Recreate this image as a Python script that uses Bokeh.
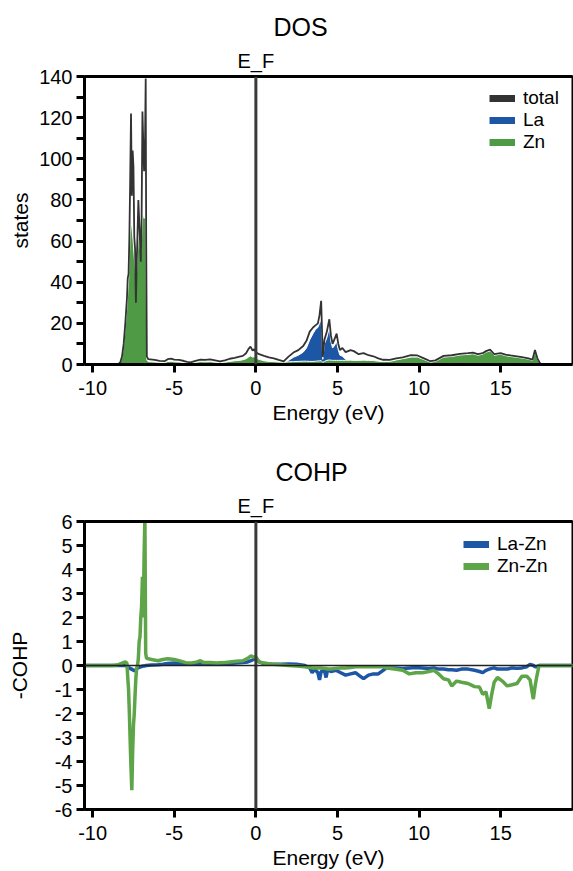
from bokeh.plotting import figure
from bokeh.layouts import column
from bokeh.models import (ColumnDataSource, Range1d, FixedTicker, LinearAxis, Span,
                          Legend, LegendItem)
from bokeh.embed import file_html
from bokeh.resources import INLINE

FONT = "Liberation Sans"
TOTAL_C = "#333333"
LA_C = "#1d56a5"
ZN_C = "#4e9a45"
ZNZN_C = "#5ea448"
EF_C = "#3b3b3b"

# ---------------- DOS data ----------------
dos_energy = [-10.5, -8.6, -8.4, -8.3, -8.2, -8.1, -8.0, -7.9, -7.85, -7.8,
              -7.75, -7.7, -7.65, -7.6, -7.55, -7.5, -7.45, -7.4, -7.35, -7.3,
              -7.25, -7.2, -7.15, -7.1, -7.05, -7.0, -6.95, -6.9, -6.85, -6.8,
              -6.75, -6.72, -6.68, -6.6, -6.2, -5.9, -5.6, -5.4, -5.2, -5.0,
              -4.7, -4.4, -4.2, -4.0, -3.7, -3.4, -3.1, -2.8, -2.5, -2.2,
              -1.9, -1.6, -1.3, -1.0, -0.8, -0.6, -0.45, -0.33, -0.2, -0.1,
              0.0, 0.2, 0.5, 0.8, 1.1, 1.4, 1.7, 2.0, 2.3, 2.6,
              2.9, 3.1, 3.3, 3.5, 3.65, 3.8, 3.9, 4.0, 4.1, 4.2,
              4.35, 4.5, 4.6, 4.7, 4.8, 4.95, 5.05, 5.15, 5.3, 5.5,
              5.8, 6.0, 6.3, 6.6, 6.9, 7.2, 7.5, 7.8, 8.2, 8.6,
              9.0, 9.5, 9.9, 10.3, 10.7, 11.0, 11.5, 12.0, 12.5, 13.0,
              13.3, 13.6, 13.9, 14.1, 14.35, 14.6, 15.0, 15.3, 15.6, 16.0,
              16.3, 16.7, 16.95, 17.1, 17.25, 17.4, 17.5, 19.5]
dos_total = [0, 0, 0.4, 1.2, 4, 10, 20, 32, 42, 44,
             62, 90, 122, 82, 104, 96, 62, 56, 30, 50,
             64, 80, 70, 60, 50, 72, 123, 108, 94, 102,
             139, 60, 4, 2.6, 2.2, 1.8, 1.6, 2.6, 2.9, 2.4,
             2.2, 1.7, 1.3, 1.0, 1.8, 2.4, 2.2, 2.5, 2.0, 1.5,
             2.0, 2.8, 3.2, 3.8, 4.2, 5.5, 7.6, 8.7, 6.8, 7.5,
             6.0, 5.0, 4.2, 3.5, 3.0, 2.2, 1.5, 3.8, 5.8, 7.0,
             9.0, 11.5, 16, 18, 19, 20, 24, 31, 3.6, 12,
             16, 22, 14, 10, 12, 15, 10, 7, 8, 6,
             7, 6.5, 5, 5.5, 4.5, 4, 3, 2.3, 2.2, 3,
             3.5, 4.5, 4.4, 3, 1.6, 2, 4.2, 4.5, 5.2, 5.5,
             5.8, 5.0, 5.5, 6.5, 7.2, 5.0, 5.5, 4.8, 4.4, 4.0,
             3.6, 3.0, 2.4, 7.0, 3.0, 0.8, 0, 0]
dos_la = [0, 0, 0, 0, 0.1, 0.1, 0.2, 0.3, 0.3, 0.3,
          0.4, 0.4, 0.5, 0.5, 0.5, 0.5, 0.5, 0.5, 0.4, 0.4,
          0.4, 0.4, 0.4, 0.4, 0.4, 0.4, 0.4, 0.4, 0.4, 0.4,
          0.4, 0.3, 0.1, 0.1, 0.1, 0.1, 0.1, 0.2, 0.2, 0.2,
          0.2, 0.2, 0.2, 0.1, 0.2, 0.2, 0.2, 0.3, 0.3, 0.3,
          0.3, 0.4, 0.4, 0.5, 0.5, 0.6, 0.8, 0.9, 1.0, 1.1,
          1.2, 1.4, 1.6, 1.5, 1.3, 1.0, 0.8, 2.0, 3.5, 4.5,
          6.0, 8.0, 12, 15, 17, 18, 20, 22, 2.5, 10,
          13, 18, 11, 8, 9, 11, 7, 4.5, 4, 2.5,
          2, 1.5, 1.0, 0.8, 0.7, 0.6, 0.5, 0.4, 0.4, 0.4,
          0.4, 0.4, 0.4, 0.3, 0.2, 0.2, 0.3, 0.3, 0.3, 0.3,
          0.3, 0.3, 0.3, 0.3, 0.3, 0.3, 0.3, 0.3, 0.3, 0.3,
          0.3, 0.3, 0.2, 0.3, 0.2, 0.1, 0, 0]
dos_zn = [0, 0, 0.3, 1.0, 3.5, 9, 18, 28, 35, 40,
          52, 63, 70, 67, 63, 58, 52, 47, 40, 46,
          55, 62, 64, 57, 54, 62, 72, 73, 71, 72,
          72, 40, 2.2, 1.4, 1.2, 1.0, 0.9, 1.4, 1.6, 1.3,
          1.2, 0.9, 0.7, 0.5, 1.0, 1.4, 1.3, 1.4, 1.1, 0.8,
          1.1, 1.5, 1.8, 2.0, 2.3, 2.8, 3.6, 4.2, 3.6, 3.8,
          3.0, 2.5, 1.8, 1.5, 1.4, 1.2, 1.1, 1.3, 1.4, 1.5,
          1.6, 1.6, 1.5, 1.5, 1.6, 1.7, 1.8, 1.9, 1.0, 1.5,
          2.0, 2.2, 2.1, 2.0, 2.0, 2.0, 2.0, 2.0, 2.0, 2.0,
          2.1, 2.0, 2.0, 2.1, 2.0, 1.9, 1.6, 1.4, 1.5, 2.2,
          2.8, 3.6, 3.6, 2.4, 1.1, 1.5, 3.6, 3.9, 4.6, 4.9,
          5.2, 4.5, 5.0, 6.0, 6.6, 4.5, 5.0, 4.3, 3.9, 3.5,
          3.1, 2.6, 2.0, 6.5, 2.6, 0.5, 0, 0]

# ---------------- COHP data ----------------
cohp_energy = [-10.5, -8.8, -8.5, -8.2, -8.0, -7.9, -7.85, -7.8, -7.75, -7.7,
               -7.65, -7.6, -7.55, -7.5, -7.45, -7.4, -7.35, -7.3, -7.25, -7.2,
               -7.15, -7.1, -7.05, -7.0, -6.95, -6.9, -6.85, -6.8, -6.75, -6.7,
               -6.4, -6.0, -5.7, -5.4, -5.0, -4.6, -4.3, -4.0, -3.6, -3.4,
               -3.2, -2.8, -2.4, -2.0, -1.6, -1.2, -0.8, -0.5, -0.3, -0.15,
               0.0, 0.2, 0.5, 1.0, 1.5, 2.0, 2.5, 3.0, 3.3, 3.45,
               3.6, 3.8, 3.9, 4.0, 4.2, 4.3, 4.4, 4.6, 4.9, 5.2,
               5.5, 5.8, 6.1, 6.4, 6.6, 6.9, 7.2, 7.5, 7.8, 8.0,
               8.5, 9.0, 9.4, 9.8, 10.2, 10.6, 10.9, 11.2, 11.5, 11.8,
               12.0, 12.3, 12.6, 13.0, 13.4, 13.7, 13.9, 14.1, 14.3, 14.45,
               14.6, 14.8, 15.1, 15.4, 15.7, 16.0, 16.3, 16.6, 16.8, 17.0,
               17.1, 17.2, 17.35, 19.5]
cohp_la_zn = [0, 0, 0, 0, 0, -0.02, -0.05, -0.08, -0.1, -0.12,
              -0.15, -0.15, -0.18, -0.2, -0.22, -0.2, -0.18, -0.15, -0.1, -0.08,
              -0.08, -0.06, -0.05, -0.04, -0.03, -0.02, -0.02, -0.02, 0.0, 0.0,
              0.02, 0.03, 0.05, 0.08, 0.1, 0.06, 0.06, 0.05, 0.08, 0.1,
              0.06, 0.06, 0.05, 0.06, 0.08, 0.1, 0.12, 0.15, 0.2, 0.25,
              0.3, 0.15, 0.08, 0.05, 0.05, 0.06, 0.05, 0.0, -0.1, -0.3,
              -0.15, -0.3, -0.6, -0.25, -0.2, -0.5, -0.15, -0.25, -0.2, -0.3,
              -0.4, -0.35, -0.3, -0.45, -0.55, -0.4, -0.35, -0.35, -0.2, -0.1,
              -0.1, -0.12, -0.1, -0.08, -0.1, -0.12, -0.1, -0.15, -0.15, -0.18,
              -0.18, -0.2, -0.15, -0.15, -0.2, -0.25, -0.3, -0.2, -0.15, -0.12,
              -0.1, -0.15, -0.15, -0.15, -0.1, -0.12, -0.1, -0.05, 0.05, 0.0,
              -0.05, -0.05, 0.0, 0]
cohp_zn_zn = [0, 0, 0.02, 0.1, 0.15, 0.1, -0.5, -1.0, -2.0, -3.2,
              -4.3, -5.2, -3.6, -2.5, -2.0, -1.2, -0.5, -0.1, 0.0, 0.3,
              1.0, 1.2, 2.0, 2.5, 3.7, 2.0, 4.5, 6.2, 0.5, 0.3,
              0.25, 0.2, 0.25, 0.28, 0.25, 0.18, 0.12, 0.1, 0.15, 0.2,
              0.12, 0.12, 0.1, 0.12, 0.15, 0.18, 0.2, 0.3, 0.4, 0.35,
              0.35, 0.15, 0.1, 0.05, 0.03, 0.0, -0.02, -0.05, -0.08, -0.1,
              -0.1, -0.1, -0.1, -0.1, -0.12, -0.12, -0.15, -0.15, -0.12, -0.1,
              -0.1, -0.08, -0.05, -0.05, -0.05, -0.05, -0.05, -0.05, -0.05, -0.1,
              -0.15, -0.2, -0.35, -0.3, -0.3, -0.25, -0.2, -0.35, -0.55, -0.6,
              -0.85, -0.65, -0.7, -0.75, -0.88, -0.9, -1.2, -1.1, -1.8, -1.2,
              -0.7, -0.5, -0.65, -0.85, -0.8, -0.75, -0.45, -0.45, -0.6, -1.4,
              -0.9, -0.5, 0.0, 0]

x_ticks = [-10, -5, 0, 5, 10, 15]
dos_y_ticks = [0, 20, 40, 60, 80, 100, 120, 140]
dos_y_minor = [10, 30, 50, 70, 90, 110, 130]
cohp_y_ticks = [-6, -5, -4, -3, -2, -1, 0, 1, 2, 3, 4, 5, 6]


def hyphen_labels(ticks):
    # plain ASCII hyphen for negative tick labels, as in the original
    return {t: str(t) for t in ticks if t < 0}


def base(title, height, yr, yticks, yminor, ylabel, title_offset,
         mb_top, mb_bottom, ylabel_standoff):
    p = figure(width=573, height=height, x_range=Range1d(-10.5, 19.4),
               y_range=Range1d(*yr), output_backend="svg", toolbar_location=None,
               min_border_left=84, min_border_right=1, min_border_top=mb_top,
               min_border_bottom=mb_bottom, title=title)
    p.title.text_font = FONT
    p.title.text_font_size = "25px"
    p.title.text_font_style = "normal"
    p.title.text_color = "black"
    p.title.align = "left"
    p.title.offset = title_offset
    p.title.standoff = 12
    p.grid.visible = False
    p.outline_line_color = "black"
    p.outline_line_width = 2
    p.outline_line_alpha = 1
    p.background_fill_color = "white"
    p.border_fill_color = "white"

    xa = p.xaxis[0]
    xa.ticker = FixedTicker(ticks=x_ticks)
    xa.major_label_overrides = hyphen_labels(x_ticks)
    xa.axis_label = "Energy (eV)"
    ya = p.yaxis[0]
    ya.ticker = FixedTicker(ticks=yticks, minor_ticks=yminor)
    ya.major_label_overrides = hyphen_labels(yticks)
    ya.axis_label = ylabel
    for ax in (xa, ya):
        ax.axis_line_width = 3
        ax.axis_line_color = "black"
        ax.major_tick_line_width = 3
        ax.minor_tick_line_width = 3
        ax.major_tick_in = 0
        ax.minor_tick_in = 0
        ax.major_tick_out = 8
        ax.minor_tick_out = 8
        ax.major_label_text_font = FONT
        ax.major_label_text_font_size = "20px"
        ax.major_label_text_color = "black"
        ax.axis_label_text_font = FONT
        ax.axis_label_text_font_size = "21px"
        ax.axis_label_text_font_style = "normal"
        ax.axis_label_text_color = "black"
        ax.major_label_standoff = 4
    xa.major_label_standoff = 8
    xa.axis_label_standoff = 3
    ya.axis_label_standoff = ylabel_standoff

    top = LinearAxis(ticker=FixedTicker(ticks=[0]), major_label_overrides={0: "E_F"})
    top.axis_line_width = 3
    top.major_tick_out = 0
    top.major_tick_in = 0
    top.major_label_standoff = 5
    top.major_label_text_font = FONT
    top.major_label_text_font_size = "20px"
    top.major_label_text_color = "black"
    p.add_layout(top, "above")

    p.add_layout(Span(location=0, dimension="height", line_color=EF_C, line_width=3))
    return p


def legend_entry(p, label, renderer, loc):
    # one legend per entry so that the rows can be placed exactly
    leg = Legend(items=[LegendItem(label=label, renderers=[renderer])], location=loc)
    leg.background_fill_alpha = 0
    leg.border_line_alpha = 0
    leg.inactive_fill_alpha = 0
    leg.label_text_font = FONT
    leg.label_text_font_size = "19px"
    leg.label_text_color = "black"
    leg.glyph_width = 26
    leg.glyph_height = 16
    leg.label_height = 16
    leg.label_standoff = 8
    leg.spacing = 0
    leg.padding = 0
    leg.margin = 0
    p.add_layout(leg)


# ---------------- DOS figure ----------------
dos_src = ColumnDataSource(dict(e=dos_energy, total=dos_total, la=dos_la, zn=dos_zn))
p1 = base("DOS", 430, (0, 140), dos_y_ticks, dos_y_minor, "states", 189, 76, 66, 4)
p1.varea(x="e", y1=0, y2="la", source=dos_src, fill_color=LA_C)
p1.line(x="e", y="la", source=dos_src, line_color="white", line_width=1)
p1.varea(x="e", y1=0, y2="zn", source=dos_src, fill_color=ZN_C)
p1.line(x="e", y="zn", source=dos_src, line_color="white", line_width=1)
p1.line(x="e", y="total", source=dos_src, line_color=TOTAL_C, line_width=1.8)

# legend swatches (hidden renderers on the same data, drawn only in the legend)
lt = p1.line(x="e", y="total", source=dos_src, line_color=TOTAL_C, line_width=7, visible=False)
ll = p1.line(x="e", y="la", source=dos_src, line_color=LA_C, line_width=7, visible=False)
lz = p1.line(x="e", y="zn", source=dos_src, line_color=ZN_C, line_width=7, visible=False)
legend_entry(p1, "total", lt, (405, 255))
legend_entry(p1, "La", ll, (405, 233))
legend_entry(p1, "Zn", lz, (405, 211))

# ---------------- COHP figure ----------------
cohp_src = ColumnDataSource(dict(e=cohp_energy, lazn=cohp_la_zn, znzn=cohp_zn_zn))
p2 = base("COHP", 441, (-6, 6), cohp_y_ticks, [], "-COHP", 191, 91, 61, 21)
p2.line(x="e", y="lazn", source=cohp_src, line_color=LA_C, line_width=3.5)
p2.line(x="e", y="znzn", source=cohp_src, line_color=ZNZN_C, line_width=3.5)
p2.add_layout(Span(location=0, dimension="width", line_color="#222222", line_width=1.5))

m1 = p2.line(x="e", y="lazn", source=cohp_src, line_color=LA_C, line_width=7, visible=False)
m2 = p2.line(x="e", y="znzn", source=cohp_src, line_color=ZNZN_C, line_width=7, visible=False)
legend_entry(p2, "La-Zn", m1, (379, 254))
legend_entry(p2, "Zn-Zn", m2, (379, 232))

layout = column(p1, p2, spacing=0)
open("out.html", "w").write(file_html(layout, INLINE))
